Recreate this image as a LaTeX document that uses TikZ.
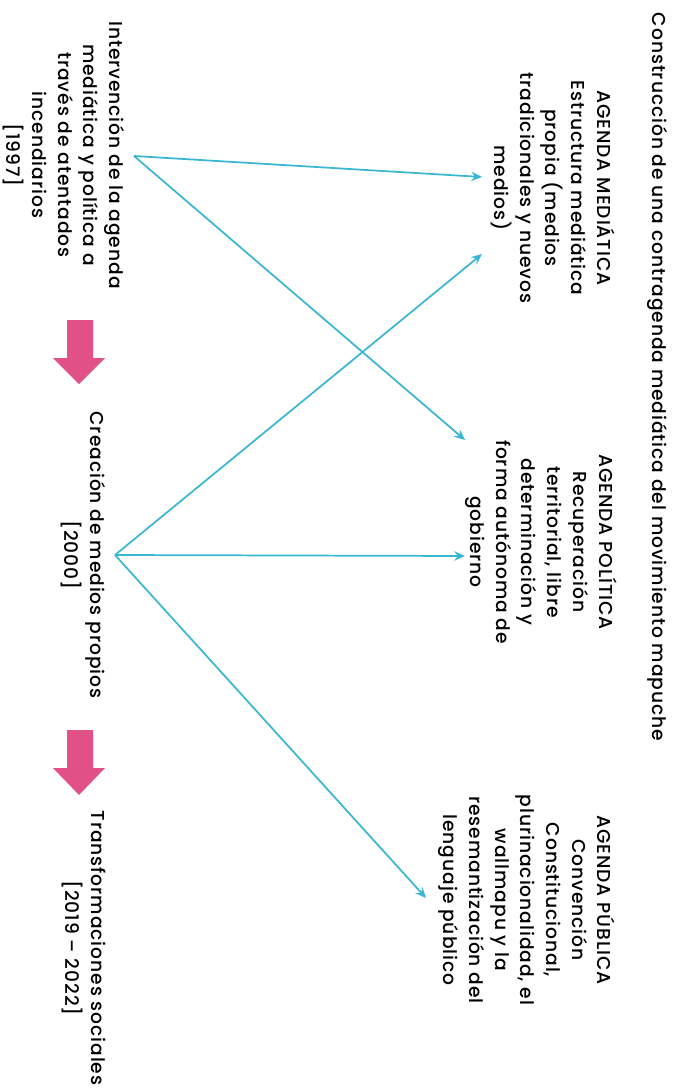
\documentclass[tikz,border=0pt]{standalone}
\usepackage{fontspec}
\setmainfont{Poppins Medium}[LetterSpace=5]
\usetikzlibrary{calc,arrows.meta}
\definecolor{cy}{RGB}{56,182,210}
\definecolor{pk}{RGB}{225,80,135}
\begin{document}
\begin{tikzpicture}[x=0.75pt,y=-0.75pt,
  lbl/.style={rotate=-90, align=center, font=\fontsize{14}{19.3}\selectfont, inner sep=2pt},
  conn/.style={draw=cy, line width=1.3pt, -{Stealth[length=8pt,width=7pt]}},
  pinkarrow/.style={fill=pk}]
\useasboundingbox (0,0) rectangle (673,1091);
\node[lbl, anchor=west] (title) at (657,10) {Construcción de una contragenda mediática del movimiento mapuche};
\node[lbl] (medi) at (553,188) {AGENDA MEDIÁTICA\\Estructura mediática\\propia (medios\\tradicionales y nuevos\\medios)};
\node[lbl] (poli) at (541,542) {AGENDA POLÍTICA\\Recuperación\\territorial, libre\\determinación y\\forma autónoma de\\gobierno};
\node[lbl] (publ) at (527,900) {AGENDA PÚBLICA\\Convención\\Constitucional,\\plurinacionalidad, el\\wallmapu y la\\resemantización del\\lenguaje público};
\node[lbl] (inter) at (64,155) {Intervención de la agenda\\mediática y política a\\través de atentados\\incendiarios\\{[1997]}};
\node[lbl] (crea) at (83,555) {Creación de medios propios\\{[2000]}};
\node[lbl] (trans) at (84,948) {Transformaciones sociales\\{[2019 – 2022]}};
\coordinate (o1) at (134,156);
\coordinate (o2) at (115,555);
\coordinate (tM1) at (482,177);
\coordinate (tM2) at (482,254);
\coordinate (tP1) at (465,440);
\coordinate (tP2) at (465,556);
\coordinate (tU) at (426,898);
\draw[conn] (o1) -- (tM1);
\draw[conn] (o1) -- (tP1);
\draw[conn] (o2) -- (tM2);
\draw[conn] (o2) -- (tP2);
\draw[conn] (o2) -- (tU);
\fill[pinkarrow] (67,320) -- (93,320) -- (93,358) -- (105,358) -- (79,384) -- (53,358) -- (67,358) -- cycle;
\fill[pinkarrow] (67,730) -- (93,730) -- (93,768) -- (105,768) -- (79,795) -- (53,768) -- (67,768) -- cycle;
\end{tikzpicture}
\end{document}
